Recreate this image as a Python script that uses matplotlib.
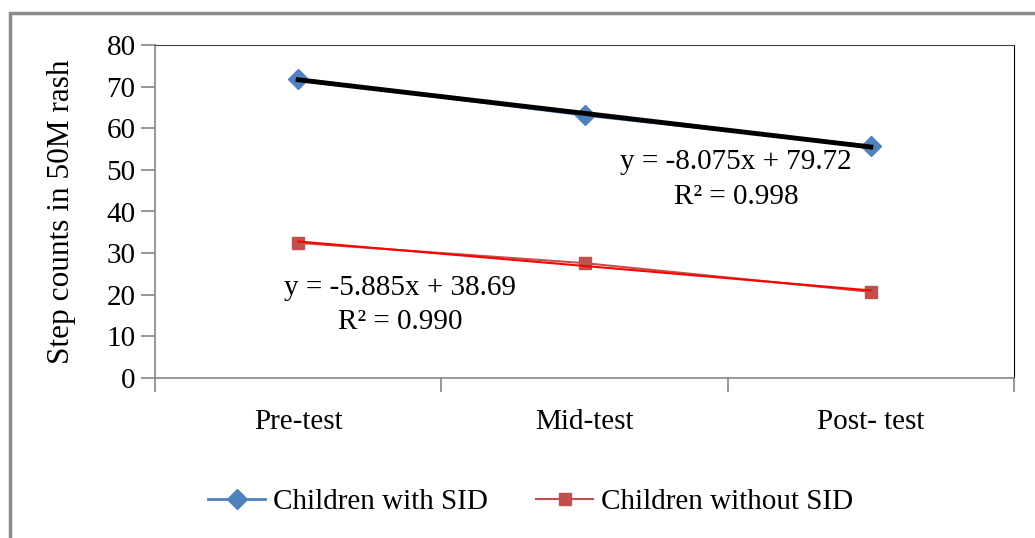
import matplotlib.pyplot as plt
import numpy as np
from matplotlib.patches import Rectangle

plt.rcParams['font.family'] = ['Liberation Serif', 'DejaVu Serif']

phases = ["Pre-test", "Mid-test", "Post- test"]
with_sid = [71.87, 63.13, 55.72]
without_sid = [32.46, 27.60, 20.69]
yticks = [0, 10, 20, 30, 40, 50, 60, 70, 80]

fig = plt.figure(figsize=(10.35, 5.38), dpi=100)
# outer chart frame
fig.patches.append(Rectangle((10 / 1035, -0.05), 1.1, 1 - 13 / 538 + 0.05,
                             transform=fig.transFigure, fill=False,
                             edgecolor='#8c8c8c', linewidth=2.5))
ax = fig.add_axes([155 / 1035, 1 - 378 / 538, 859 / 1035, 333 / 538])

x = np.arange(1, len(phases) + 1)
ax.plot(x, with_sid, color='#4f81bd', marker='D', markersize=10, linewidth=2,
        label="Children with SID", zorder=3)
ax.plot(x, without_sid, color='#c0504d', marker='s', markersize=8, linewidth=1.5,
        label="Children without SID", zorder=3)

# linear trendlines
k1, b1 = np.polyfit(x, with_sid, 1)
k2, b2 = np.polyfit(x, without_sid, 1)
ax.plot(x, k1 * x + b1, color='black', linewidth=3.5, zorder=4)
ax.plot(x, k2 * x + b2, color='red', linewidth=1.5, zorder=4)

ax.text(2.53, 51.9, "y = %.3fx + %.2f" % (k1, b1), ha='center', va='center', fontsize=21)
ax.text(2.53, 43.5, "R\u00b2 = 0.998", ha='center', va='center', fontsize=21)
ax.text(1.357, 21.6, "y = %.3fx + %.2f" % (k2, b2), ha='center', va='center', fontsize=21)
ax.text(1.357, 13.45, "R\u00b2 = 0.990", ha='center', va='center', fontsize=21)

ax.set_xlim(0.5, 3.5)
ax.set_ylim(0, 80)
ax.set_yticks(yticks)
ax.set_yticklabels([str(v) for v in yticks], fontsize=21)
ax.set_xticks([0.5, 1.5, 2.5, 3.5])
ax.set_xticklabels([])
ax.set_xticks(x, minor=True)
ax.set_xticklabels(phases, minor=True, fontsize=21)
ax.tick_params(axis='x', which='minor', length=0, pad=22)
ax.tick_params(axis='both', which='major', direction='out', length=10,
               color='#868686', width=1.2)
ax.tick_params(axis='y', pad=4)
for side in ('left', 'bottom'):
    ax.spines[side].set_color('#868686')
    ax.spines[side].set_linewidth(1.2)
ax.spines['top'].set_color('#404040')
ax.spines['right'].set_color('black')
ax.set_ylabel("Step counts in 50M rash", fontsize=22.5)
ax.yaxis.set_label_coords(62 / 1035, 1 - 212 / 538, transform=fig.transFigure)
ax.yaxis.label.set_va('center')

ax.legend(loc='center', bbox_to_anchor=(531 / 1035, 1 - 502 / 538),
          bbox_transform=fig.transFigure, ncol=2, frameon=False, fontsize=21,
          handlelength=1.95, columnspacing=1.65, handletextpad=0.28)

plt.savefig("out.png", dpi=100)
